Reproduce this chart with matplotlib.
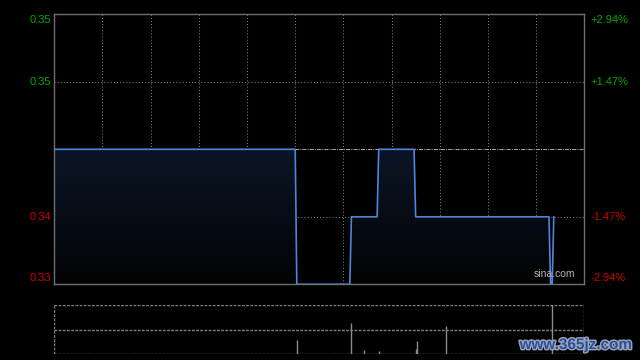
import matplotlib
matplotlib.use('Agg')
import matplotlib.pyplot as plt
import matplotlib.patheffects as pe
import numpy as np
from matplotlib.colors import LinearSegmentedColormap

# minutes since 09:30 (HK session, lunch break removed: 330 minutes total)
minutes = [0, 150, 151, 184, 185, 201, 202, 224, 225, 308, 309, 310, 311]
prices = [0.34, 0.34, 0.33, 0.33, 0.335, 0.335, 0.34, 0.34, 0.335, 0.335, 0.33, 0.33, 0.335]

vol_minutes = [151, 185, 193, 202, 225, 226, 244, 310]
volumes = [290, 635, 87, 67, 108, 270, 574, 1000]

prev_close = 0.34
pct_levels = [2.94, 1.47, 0, -1.47, -2.94]
price_labels = ['0.35', '0.35', '', '0.34', '0.33']
pct_labels = ['+2.94%', '+1.47%', '', '-1.47%', '-2.94%']
label_colors = ['#00a800', '#00a800', '', '#d00000', '#d00000']

plt.rcParams['font.family'] = ['Liberation Sans', 'DejaVu Sans']

W, H = 640, 360
fig = plt.figure(figsize=(6.4, 3.6), dpi=100, facecolor='black')
ax = fig.add_axes([54.3 / W, 1 - 284.3 / H, 530 / W, 270 / H])
axv = fig.add_axes([54.3 / W, 1 - 354.3 / H, 530 / W, 49.6 / H])

grid_c = '#808080'

ax.set_facecolor('black')
ax.set_xticks([])
ax.set_yticks([])
for s in ax.spines.values():
    s.set_color('#707070')
    s.set_linewidth(1)

for m in range(30, 330, 30):
    ax.axvline(m, color=grid_c, lw=0.75, ls=(0, (1, 2)), zorder=1)
for lv in (0.335, 0.345):
    ax.axhline(lv, color=grid_c, lw=0.75, ls=(0, (1, 2)), zorder=1)
ax.axhline(prev_close, color='#a0a0a0', lw=0.75, ls=(0, (4, 1, 1, 1)), zorder=1)

# gradient fill under the price line
poly = ax.fill_between(minutes, prices, 0.33, color='none', lw=0)
cmap = LinearSegmentedColormap.from_list('f', ['#020305', '#0c1526'])
grad = np.linspace(0, 1, 256).reshape(-1, 1)
im = ax.imshow(grad, cmap=cmap, aspect='auto', origin='lower',
               extent=[0, 330, 0.33, 0.34], zorder=2)
im.set_clip_path(poly.get_paths()[0], transform=ax.transData)
ax.set_xlim(0, 330)
ax.set_ylim(0.33, 0.35)

ax.plot(minutes, prices, color='#4f84d8', lw=1.2, zorder=3)

# axis labels
for i, p in enumerate(pct_levels):
    if not price_labels[i]:
        continue
    y = prev_close * (1 + p / 100)
    y = min(max(y, 0.33), 0.35)
    dy = 0
    if i == 0:
        dy = -6
    elif i == len(pct_levels) - 1:
        dy = 6
    ax.annotate(price_labels[i], xy=(0, y), xycoords=('axes fraction', 'data'),
                xytext=(-3, dy), textcoords='offset pixels', ha='right', va='center',
                color=label_colors[i], fontsize=8)
    ax.annotate(pct_labels[i], xy=(1, y), xycoords=('axes fraction', 'data'),
                xytext=(6, dy), textcoords='offset pixels', ha='left', va='center',
                color=label_colors[i], fontsize=8)

ax.text(0.983, 0.02, 'sina.com', transform=ax.transAxes, ha='right', va='bottom',
        color='#b4b4b4', fontsize=7.5, zorder=4)

# volume panel
axv.set_facecolor('black')
axv.set_xlim(0, 330)
axv.set_ylim(0, max(volumes))
axv.set_xticks([])
axv.set_yticks([])
for s in axv.spines.values():
    s.set_visible(False)
for f in (0, 0.5, 1):
    axv.axhline(max(volumes) * f, color=grid_c, lw=1, ls=(0, (2, 1)), zorder=1)
for xv in (0, 330):
    axv.axvline(xv, color=grid_c, lw=1, ls=(0, (2, 1)), zorder=1)
axv.vlines(vol_minutes, 0, volumes, color='#8c8c8c', lw=1, zorder=2)

fig.text(632 / W, 1 - 345 / H, 'www.365jz.com', ha='right', va='center',
         fontsize=11, fontweight='bold', color='#2b4f9c',
         path_effects=[pe.withStroke(linewidth=2, foreground='#9aa4b8')])

fig.savefig('out.png', dpi=100, facecolor='black')
